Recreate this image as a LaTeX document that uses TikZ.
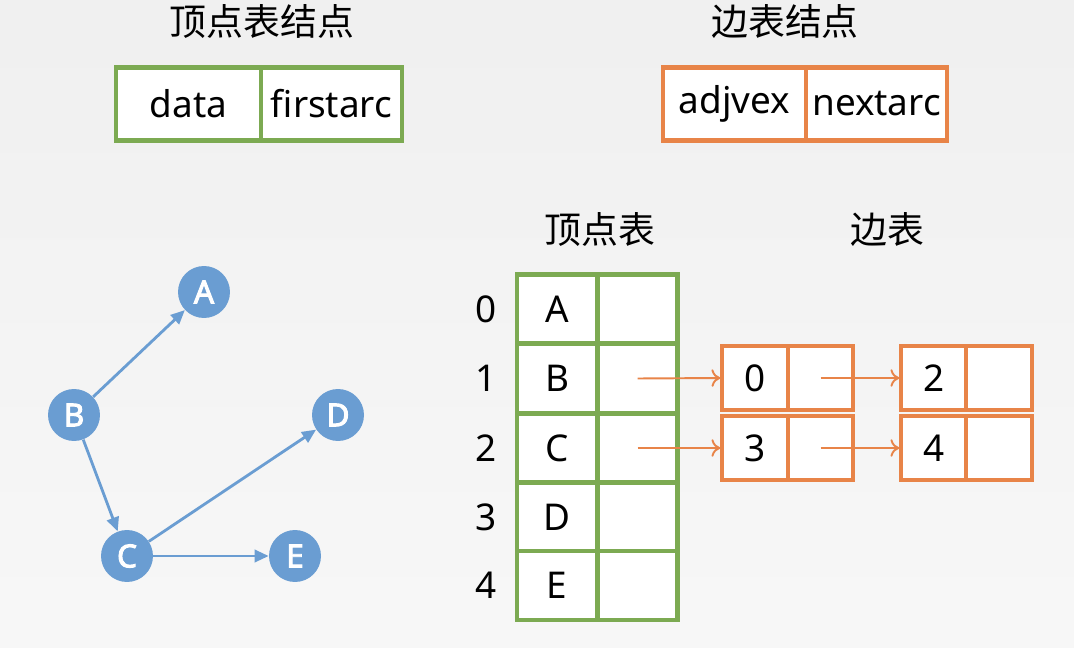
\documentclass[tikz,border=0pt]{standalone}
\usepackage{fontspec}
\setmainfont{Noto Sans}
\newfontfamily\cjk{Noto Sans CJK SC}
\newfontfamily\gfont[FakeBold=3]{Noto Sans}
\usetikzlibrary{arrows.meta}

\definecolor{vgreen}{RGB}{124,170,82}
\definecolor{eorange}{RGB}{232,132,72}
\definecolor{gblue}{RGB}{106,157,210}

\begin{document}
\begin{tikzpicture}
  [x=0.02cm,y=-0.02cm,
   every node/.style={font=\fontsize{21}{24}\selectfont},
   vcell/.style={draw=vgreen,line width=2.3pt,fill=white,minimum width=1.6cm,minimum height=1.38cm,inner sep=0pt},
   ecell/.style={draw=eorange,line width=2.3pt,fill=white,minimum width=1.31cm,minimum height=1.28cm,inner sep=0pt},
   gnode/.style={circle,fill=gblue,text=white,minimum size=1.04cm,inner sep=0pt,font=\fontsize{18}{20}\selectfont\gfont},
   title/.style={font=\fontsize{21}{24}\selectfont\cjk}]
  \shade[top color=black!6,bottom color=black!3] (0,0) rectangle (1074,648);
  \useasboundingbox (0,0) rectangle (1074,648);

  % node layouts
  \node[title] (t1) at (262,22) {顶点表结点};
  \node[title] (t2) at (785,22) {边表结点};
  \node[vcell,minimum width=2.9cm,minimum height=1.46cm] (h1) at (188.5,104) {data};
  \node[vcell,minimum width=2.82cm,minimum height=1.46cm] (h2) at (331.5,104) {firstarc};
  \node[ecell,minimum width=2.86cm,minimum height=1.46cm] (h3) at (734.5,104) {adjvex};
  \node[ecell,minimum width=2.82cm,minimum height=1.46cm] (h4) at (876.5,104) {nextarc};

  % graph
  \node[gnode] (A) at (204,292) {A};
  \node[gnode] (B) at (74,415)  {B};
  \node[gnode] (D) at (338,415) {D};
  \node[gnode] (C) at (127,556) {C};
  \node[gnode] (E) at (295,556) {E};
  \foreach \from/\to in {B/A,B/C,C/D,C/E}
    \draw[gblue,line width=1.6pt,-{Triangle[length=8pt,width=7pt]}] (\from) -- (\to);

  % vertex table
  \node[title] (vt) at (600,230) {顶点表};
  \node[title] (et) at (887,230) {边表};
  \foreach \i/\v/\y in {0/A/309,1/B/378.5,2/C/448,3/D/517,4/E/585.5} {
    \node (n\i) at (486,\y) {\i};
    \node[vcell] (v\i a) at (557,\y) {\v};
    \node[vcell] (v\i b) at (637.5,\y) {};
  }

  % edge table
  \node[ecell] (e0a) at (755,378) {0};
  \node[ecell] (e0b) at (820.5,378) {};
  \node[ecell] (e2a) at (934,378) {2};
  \node[ecell] (e2b) at (999,378) {};
  \node[ecell] (e3a) at (755,448) {3};
  \node[ecell] (e3b) at (820.5,448) {};
  \node[ecell] (e4a) at (934,448) {4};
  \node[ecell] (e4b) at (999,448) {};

  \foreach \from/\to in {v1b/e0a,e0b/e2a,v2b/e3a,e3b/e4a}
    \draw[eorange,line width=1.1pt,-{To[length=5pt,width=10pt]}] (\from.center) -- (\to.west);

\end{tikzpicture}
\end{document}
